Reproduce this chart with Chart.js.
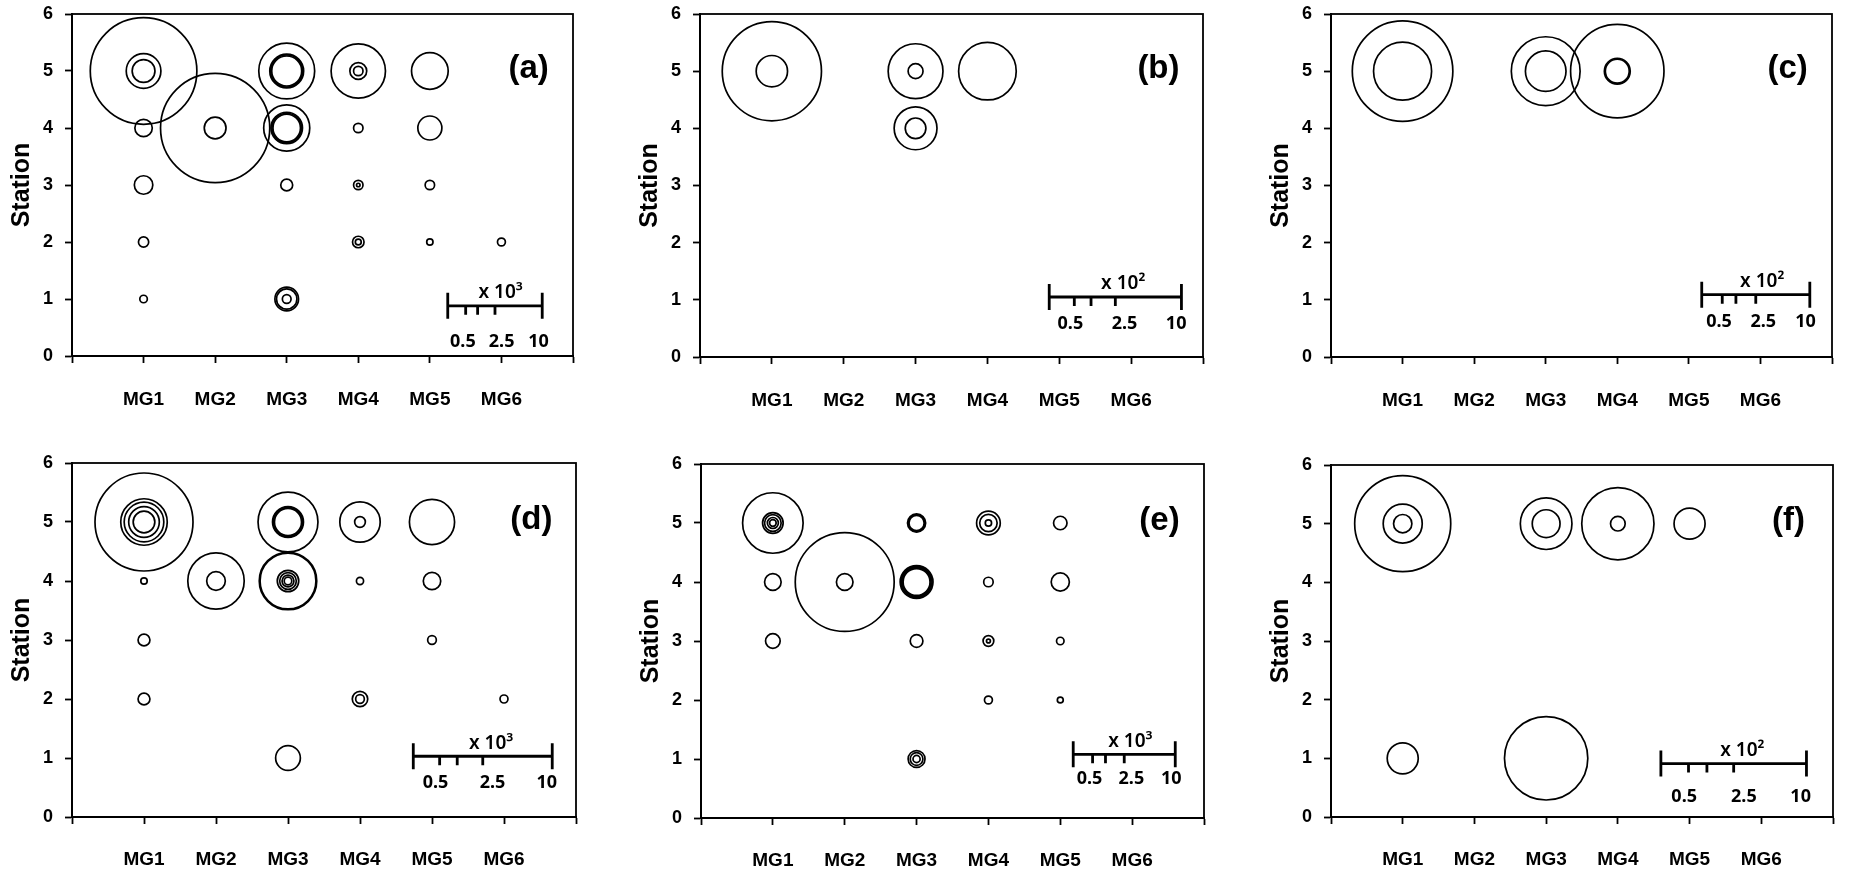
<!DOCTYPE html>
<html>
<head>
<meta charset="utf-8">
<script src="https://cdn.jsdelivr.net/npm/chart.js@4.4.1/dist/chart.umd.min.js"></script>
<style>
    html, body { margin: 0; background: #fff; }
    #wrap { position: relative; width: 1862px; height: 876px; overflow: hidden; }
    #wrap canvas { position: absolute; display: block; }
</style>
</head>
<body>
<div id="wrap"></div>
<script>
// grupos y estaciones
const groups = ['MG1', 'MG2', 'MG3', 'MG4', 'MG5', 'MG6'];
const stations = [0, 1, 2, 3, 4, 5, 6];

// un anillo por entrada: [grupo, estacion, abundancia en unidades de la barra]
const ringsA = [
    [1, 5, 12.0], [1, 5, 1.27], [1, 5, 0.55],
    [1, 4, 0.32], [1, 3, 0.36], [1, 2, 0.11], [1, 1, 0.06],
    [2, 4, 12.6], [2, 4, 0.50],
    [3, 5, 3.3], [3, 5, 1.21], [3, 5, 1.08], [3, 5, 0.95],
    [3, 4, 2.24], [3, 4, 1.05], [3, 4, 0.92], [3, 4, 0.80],
    [3, 3, 0.15],
    [3, 1, 0.59], [3, 1, 0.44], [3, 1, 0.08],
    [4, 5, 3.12], [4, 5, 0.30], [4, 5, 0.094],
    [4, 4, 0.094], [4, 3, 0.094], [4, 3, 0.013],
    [4, 2, 0.14], [4, 2, 0.037],
    [5, 5, 1.42], [5, 4, 0.61], [5, 3, 0.094], [5, 2, 0.042],
    [6, 2, 0.066]
];
const ringsB = [
    [1, 5, 5.31], [1, 5, 0.53],
    [3, 5, 1.62], [3, 5, 0.12],
    [3, 4, 0.99], [3, 4, 0.23],
    [4, 5, 1.79]
];
const ringsC = [
    [1, 5, 8.16], [1, 5, 2.72],
    [3, 5, 3.82], [3, 5, 1.33],
    [4, 5, 7.04], [4, 5, 0.54], [4, 5, 0.46]
];
const ringsD = [
    [1, 5, 4.71], [1, 5, 1.06], [1, 5, 0.77], [1, 5, 0.46], [1, 5, 0.23],
    [1, 4, 0.02], [1, 3, 0.069], [1, 2, 0.069],
    [2, 4, 1.56], [2, 4, 0.17],
    [3, 5, 1.76], [3, 5, 0.47], [3, 5, 0.42], [3, 5, 0.36],
    [3, 4, 1.62], [3, 4, 1.53], [3, 4, 0.225], [3, 4, 0.136], [3, 4, 0.069], [3, 4, 0.028],
    [3, 1, 0.30],
    [4, 5, 0.80], [4, 5, 0.056],
    [4, 4, 0.025], [4, 2, 0.117], [4, 2, 0.037],
    [5, 5, 1.0], [5, 4, 0.149], [5, 3, 0.037],
    [6, 2, 0.031]
];
const ringsE = [
    [1, 5, 3.33], [1, 5, 0.385], [1, 5, 0.25], [1, 5, 0.11], [1, 5, 0.04],
    [1, 4, 0.25], [1, 3, 0.195],
    [2, 4, 8.9], [2, 4, 0.25],
    [3, 5, 0.30], [3, 5, 0.25], [3, 5, 0.21],
    [3, 4, 0.98], [3, 4, 0.87], [3, 4, 0.76], [3, 4, 0.66],
    [3, 3, 0.146],
    [3, 1, 0.26], [3, 1, 0.146], [3, 1, 0.046],
    [4, 5, 0.51], [4, 5, 0.276], [4, 5, 0.036],
    [4, 4, 0.082], [4, 3, 0.104], [4, 3, 0.014], [4, 2, 0.057],
    [5, 5, 0.165], [5, 4, 0.30], [5, 3, 0.051], [5, 2, 0.032]
];
const ringsF = [
    [1, 5, 4.12], [1, 5, 0.68], [1, 5, 0.15],
    [1, 1, 0.43],
    [3, 5, 1.19], [3, 5, 0.345],
    [3, 1, 3.1],
    [4, 5, 2.33], [4, 5, 0.096],
    [5, 5, 0.43]
];

// barra de escala: el largo total equivale al diametro de 10 unidades
const barMax = 10;
const barTickValues = [0.36, 1, 2.5];
const barLabels = ['0.5', '2.5', '10'];
const tags = ['(a)', '(b)', '(c)', '(d)', '(e)', '(f)'];
const units = ['x 10\u00B3', 'x 10\u00B2', 'x 10\u00B2', 'x 10\u00B3', 'x 10\u00B3', 'x 10\u00B2'];
const allRings = [ringsA, ringsB, ringsC, ringsD, ringsE, ringsF];

// area de trazado de cada panel en la pagina (px) y posicion de la barra (unidades de datos)
const layouts = [
    { L: 72,   R: 588,  T: 14,  B: 356, xPad: 25, bar: [5.25, 6.57, 0.88], below: 36 },
    { L: 700,  R: 1218, T: 14,  B: 357, xPad: 25, bar: [4.86, 6.70, 1.05], below: 27 },
    { L: 1331, R: 1847, T: 14,  B: 357, xPad: 25, bar: [5.18, 6.69, 1.09], below: 27 },
    { L: 72,   R: 590,  T: 463, B: 817, xPad: 24, bar: [4.74, 6.67, 1.03], below: 27 },
    { L: 701,  R: 1218, T: 464, B: 818, xPad: 24, bar: [5.18, 6.60, 1.08], below: 25 },
    { L: 1331, R: 1847, T: 465, B: 817, xPad: 24, bar: [4.60, 6.63, 0.91], below: 33 }
];

const FONT = '"Liberation Sans", Arial, sans-serif';
const Y_W = 65, PAD_T = 24, PAD_R = 10, X_H = 60;

const decoPlugin = {
    id: 'deco',
    afterDraw(chart, args, opts) {
        const { ctx, chartArea: a, scales: { x, y } } = chart;
        ctx.save();
        ctx.strokeStyle = '#000';
        ctx.fillStyle = '#000';
        ctx.lineWidth = 1.8;
        ctx.strokeRect(a.left, a.top, a.right - a.left, a.bottom - a.top);

        ctx.font = 'bold 33px ' + FONT;
        ctx.textAlign = 'center';
        ctx.textBaseline = 'middle';
        ctx.fillText(opts.tag, x.getPixelForValue(6.38), y.getPixelForValue(5.04));

        const [b0, b1, by] = opts.bar;
        const x0 = x.getPixelForValue(b0);
        const x1 = x.getPixelForValue(b1);
        const py = y.getPixelForValue(by);
        const len = x1 - x0;
        ctx.lineWidth = 2.8;
        ctx.beginPath();
        ctx.moveTo(x0, py); ctx.lineTo(x1, py);
        ctx.moveTo(x0, py - 13); ctx.lineTo(x0, py + 13);
        ctx.moveTo(x1, py - 13); ctx.lineTo(x1, py + 13);
        barTickValues.forEach(v => {
            const tx = x0 + len * Math.sqrt(v / barMax);
            ctx.moveTo(tx, py); ctx.lineTo(tx, py + 9);
        });
        ctx.stroke();

        ctx.font = '600 19px "Noto Sans", sans-serif';
        ctx.fillText(opts.unit, x0 + len * 0.56, py - 13);
        ctx.font = 'bold 18px "Noto Sans", sans-serif';
        [0.16, 0.57, 0.96].forEach((f, k) => {
            ctx.fillText(barLabels[k], x0 + len * f, py + opts.below);
        });
        ctx.restore();
    }
};

function makePanel(i) {
    const P = layouts[i];
    const canvas = document.createElement('canvas');
    canvas.width = P.R - P.L + Y_W + PAD_R;
    canvas.height = P.B - P.T + PAD_T + X_H;
    canvas.style.left = (P.L - Y_W) + 'px';
    canvas.style.top = (P.T - PAD_T) + 'px';
    document.getElementById('wrap').appendChild(canvas);

    // radio: la barra completa es el diametro de barMax
    const halfBar = (P.bar[1] - P.bar[0]) * (P.R - P.L) / 7 / 2;
    const points = allRings[i].map(([g, s, v]) => ({ x: g, y: s, r: halfBar * Math.sqrt(v / barMax) }));

    return new Chart(canvas, {
        type: 'bubble',
        data: {
            datasets: [{
                data: points,
                backgroundColor: 'rgba(0,0,0,0)',
                borderColor: '#000',
                borderWidth: 1.7,
                hoverBorderWidth: 1.7,
                hoverRadius: 0,
                clip: false
            }]
        },
        options: {
            responsive: false,
            animation: false,
            events: [],
            layout: { autoPadding: false, padding: { left: 0, right: PAD_R, top: PAD_T, bottom: 0 } },
            plugins: {
                legend: { display: false },
                tooltip: { enabled: false },
                deco: { tag: tags[i], unit: units[i], bar: P.bar, below: P.below }
            },
            scales: {
                x: {
                    type: 'linear',
                    min: 0,
                    max: 7,
                    afterFit: s => { s.height = X_H; },
                    afterBuildTicks: s => { s.ticks = [0, 1, 2, 3, 4, 5, 6, 7].map(v => ({ value: v })); },
                    ticks: {
                        autoSkip: false,
                        maxRotation: 0,
                        padding: P.xPad,
                        color: '#000',
                        font: { family: FONT, size: 19, weight: 'bold' },
                        callback: v => groups[v - 1] || ''
                    },
                    grid: { drawOnChartArea: false, drawTicks: true, tickLength: 7, tickColor: '#000', tickWidth: 1.8 },
                    border: { display: true, color: '#000', width: 2 }
                },
                y: {
                    min: 0,
                    max: 6,
                    afterFit: s => { s.width = Y_W; },
                    afterBuildTicks: s => { s.ticks = stations.map(v => ({ value: v })); },
                    ticks: { padding: 12, color: '#000', font: { family: FONT, size: 18, weight: 'bold' } },
                    grid: { drawOnChartArea: false, drawTicks: true, tickLength: 7, tickColor: '#000', tickWidth: 1.8 },
                    border: { display: true, color: '#000', width: 2 },
                    title: {
                        display: true,
                        text: 'Station',
                        color: '#000',
                        padding: { top: 0, bottom: 0 },
                        font: { family: FONT, size: 25, weight: 'bold' }
                    }
                }
            }
        },
        plugins: [decoPlugin]
    });
}

for (let i = 0; i < 6; i++) makePanel(i);
</script>
</body>
</html>
